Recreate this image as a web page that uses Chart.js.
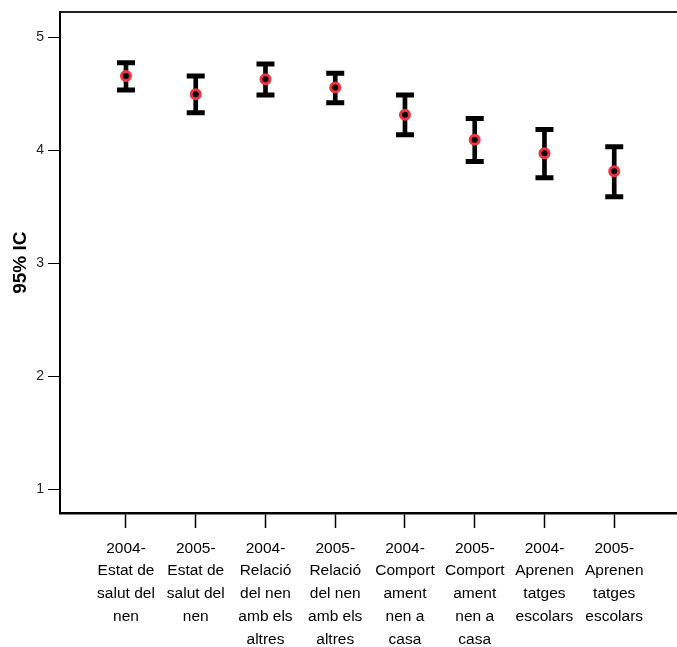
<!DOCTYPE html>
<html>
<head>
<meta charset="utf-8">
<script src="https://cdn.jsdelivr.net/npm/chart.js@4"></script>
<style>
html,body{margin:0;padding:0;background:#fff;}
#wrap{width:677px;height:647px;}
</style>
</head>
<body>
<div id="wrap"><canvas id="c" width="677" height="647"></canvas></div>
<script>
const categories = [
  ["2004-","Estat de","salut del","nen"],
  ["2005-","Estat de","salut del","nen"],
  ["2004-","Relació","del nen","amb els","altres"],
  ["2005-","Relació","del nen","amb els","altres"],
  ["2004-","Comport","ament","nen a","casa"],
  ["2005-","Comport","ament","nen a","casa"],
  ["2004-","Aprenen","tatges","escolars"],
  ["2005-","Aprenen","tatges","escolars"]
];
const positions = [1, 2, 3, 4, 5, 6, 7, 8];
const means = [4.660, 4.498, 4.631, 4.557, 4.317, 4.096, 3.975, 3.816];
const upper = [4.777, 4.659, 4.765, 4.685, 4.492, 4.284, 4.186, 4.033];
const lower = [4.536, 4.335, 4.492, 4.424, 4.140, 3.902, 3.759, 3.590];
const yTicks = [1, 2, 3, 4, 5];
const yTitle = "95% IC";

const FONT = "'Liberation Sans', Arial, Helvetica, sans-serif";
const RED = "rgb(236,52,62)";

const whiskerData = positions.map((p, i) => ({x: p, y: [lower[i], upper[i]]}));
const upperData = positions.map((p, i) => ({x: p, y: upper[i]}));
const lowerData = positions.map((p, i) => ({x: p, y: lower[i]}));
const meanData = positions.map((p, i) => ({x: p, y: means[i]}));

new Chart(document.getElementById('c'), {
  data: {
    datasets: [
      {type: 'scatter', data: meanData, order: 0, pointStyle: 'circle', pointRadius: 4.5,
       pointBorderWidth: 3, pointBorderColor: RED, pointBackgroundColor: '#000', showLine: false},
      {type: 'scatter', data: upperData, order: 1, pointStyle: 'line', pointRadius: 9,
       pointBorderWidth: 5, pointBorderColor: '#000', showLine: false},
      {type: 'scatter', data: lowerData, order: 1, pointStyle: 'line', pointRadius: 9,
       pointBorderWidth: 5, pointBorderColor: '#000', showLine: false},
      {type: 'bar', data: whiskerData, order: 2, backgroundColor: '#000', borderWidth: 0,
       barThickness: 4, borderSkipped: false}
    ]
  },
  options: {
    responsive: false,
    animation: false,
    layout: {autoPadding: false, padding: {top: 12, right: 0, left: 0, bottom: 0}},
    plugins: {legend: {display: false}, tooltip: {enabled: false}},
    scales: {
      x: {
        type: 'linear', position: 'bottom', min: 0.054, max: 8.9, offset: false,
        afterBuildTicks: s => { s.ticks = positions.map(v => ({value: v})); },
        afterFit: s => { s.height = 134; s.paddingRight = 0; s.paddingLeft = 0; },
        border: {display: true, color: '#000', width: 2.5},
        grid: {display: true, offset: false, drawOnChartArea: false, drawTicks: true, tickLength: 15, tickColor: '#000', tickWidth: 1.5},
        ticks: {
          callback: (v) => categories[positions.indexOf(v)] || '',
          color: '#000', padding: 9, maxRotation: 0, autoSkip: false,
          font: {family: FONT, size: 15.5, lineHeight: 1.47}
        }
      },
      x2: {
        type: 'linear', position: 'top', display: true, offset: false,
        afterFit: s => { s.paddingRight = 0; s.paddingLeft = 0; },
        border: {display: true, color: '#222', width: 2},
        grid: {display: false, drawTicks: false},
        ticks: {display: false}
      },
      y: {
        type: 'linear', min: 0.79, max: 5.223,
        afterBuildTicks: s => { s.ticks = yTicks.map(v => ({value: v})); },
        afterFit: s => { s.width = 60; },
        border: {display: true, color: '#000', width: 2},
        grid: {display: true, drawOnChartArea: false, drawTicks: true, tickLength: 12, tickColor: '#000', tickWidth: 1},
        ticks: {color: '#222', padding: 4, font: {family: FONT, size: 14}},
        title: {display: true, text: yTitle, color: '#000', padding: {top: 9, bottom: 0},
                font: {family: FONT, size: 19, weight: 'bold'}}
      }
    }
  }
});
</script>
</body>
</html>
